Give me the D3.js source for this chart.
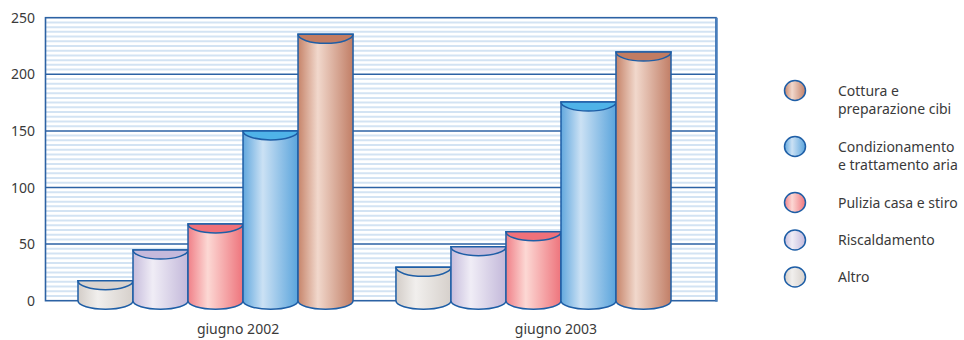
<!DOCTYPE html>
<html>
<head>
<style>
body { margin: 0; background: #fff; }
text { font-family: "Noto Sans", sans-serif; fill: #3a3a3a; }
</style>
</head>
<body>
<svg id="chart" width="964" height="340"></svg>
<script src="https://cdn.jsdelivr.net/npm/d3@7"></script>
<script>
    // data
    const groups = ["giugno 2002", "giugno 2003"];
    const series = ["Altro", "Riscaldamento", "Pulizia casa e stiro", "Condizionamento e trattamento aria", "Cottura e preparazione cibi"];
    const values2002 = [17.7, 44.8, 67.8, 150, 235.3];
    const values2003 = [29.5, 47.7, 61, 175.5, 219.7];
    const yTicks = [0, 50, 100, 150, 200, 250];
    const legendLines = [["Altro"], ["Riscaldamento"], ["Pulizia casa e stiro"], ["Condizionamento", "e trattamento aria"], ["Cottura e", "preparazione cibi"]];

    const palette = [
        {left: "#d3cdc8", mid: "#f1efed", right: "#d6d0cb", cap: "#d9d3ce"},
        {left: "#c6bcdc", mid: "#f0edf6", right: "#c3b8da", cap: "#c4b9db"},
        {left: "#f08088", mid: "#fcd8d4", right: "#ee747c", cap: "#f0717a"},
        {left: "#62a8de", mid: "#cbe1f4", right: "#5aa4dc", cap: "#4fb3e8"},
        {left: "#c6846a", mid: "#f1d8cc", right: "#c17e66", cap: "#c27c62"}
    ];
    const lineBlue = "#1e5ea6";

    const svg = d3.select("#chart");
    const plot = {left: 45.5, right: 716, top: 17.7, bottom: 300.7};
    const ry = 8.5;

    const y = d3.scaleLinear().domain([0, 250]).range([plot.bottom, plot.top]);
    const x0 = d3.scaleBand().domain(groups).range([78, 671]).paddingInner(0.135).paddingOuter(0);
    const x1 = d3.scaleBand().domain(series).range([0, x0.bandwidth()]);

    // gradients
    const defs = svg.append("defs");
    palette.forEach((c, i) => {
        const g = defs.append("linearGradient").attr("id", "grad" + i)
            .attr("x1", 0).attr("x2", 1).attr("y1", 0).attr("y2", 0);
        g.append("stop").attr("offset", 0).attr("stop-color", c.left);
        g.append("stop").attr("offset", 0.36).attr("stop-color", c.mid);
        g.append("stop").attr("offset", 1).attr("stop-color", c.right);
    });

    // minor stripes
    const minor = d3.range(0, 250, 50 / 12).filter((v, i) => i % 12 !== 0);
    svg.append("g").selectAll("line").data(minor).enter().append("line")
        .attr("x1", plot.left).attr("x2", plot.right)
        .attr("y1", d => y(d)).attr("y2", d => y(d))
        .style("stroke", "#d3e3f3").style("stroke-width", 2);

    // major grid lines
    svg.append("g").selectAll("line").data(yTicks.slice(1, -1)).enter().append("line")
        .attr("x1", plot.left).attr("x2", plot.right)
        .attr("y1", d => y(d)).attr("y2", d => y(d))
        .style("stroke", "#2c62a4").style("stroke-width", 1.5);

    // frame
    svg.append("rect")
        .attr("x", plot.left).attr("y", plot.top)
        .attr("width", plot.right - plot.left).attr("height", plot.bottom - plot.top)
        .style("fill", "none").style("stroke", "#2c62a4").style("stroke-width", 1.6);
    svg.append("line")
        .attr("x1", plot.right + 0.5).attr("x2", plot.right + 0.5)
        .attr("y1", plot.top).attr("y2", plot.bottom + 1)
        .style("stroke", "#4a7fbd").style("stroke-width", 2.5);

    // y labels
    svg.append("g").selectAll("text").data(yTicks).enter().append("text")
        .attr("x", 35).attr("y", d => y(d) + 5)
        .attr("text-anchor", "end")
        .attr("font-size", "14px")
        .text(d => d);

    // cylinders
    const bars = [];
    groups.forEach((g, gi) => {
        const vals = gi === 0 ? values2002 : values2003;
        series.forEach((s, si) => bars.push({group: g, series: s, i: si, value: vals[si]}));
    });

    function bodyPath(d) {
        const x = x0(d.group) + x1(d.series), w = x1.bandwidth();
        const top = y(d.value), base = y(0);
        return "M" + x + "," + top + " L" + x + "," + base +
            " A" + (w / 2) + "," + ry + " 0 0 0 " + (x + w) + "," + base +
            " L" + (x + w) + "," + top + " Z";
    }
    function capPath(d) {
        const x = x0(d.group) + x1(d.series), w = x1.bandwidth();
        const top = y(d.value);
        return "M" + x + "," + top + " L" + (x + w) + "," + top +
            " A" + (w / 2) + "," + (ry + 0.5) + " 0 0 1 " + x + "," + top + " Z";
    }

    const cyl = svg.append("g").selectAll("g").data(bars).enter().append("g");
    cyl.append("path")
        .attr("d", bodyPath)
        .style("fill", d => "url(#grad" + d.i + ")")
        .style("stroke", lineBlue).style("stroke-width", 1.5);
    cyl.append("path")
        .attr("d", capPath)
        .style("fill", d => palette[d.i].cap)
        .style("stroke", lineBlue).style("stroke-width", 1.5);

    // x labels
    svg.append("g").selectAll("text").data(groups).enter().append("text")
        .attr("x", d => x0(d) + x0.bandwidth() / 2 + 22.5)
        .attr("y", 334)
        .attr("text-anchor", "middle")
        .attr("font-size", "14px")
        .text(d => d);

    // legend
    const legendY = [277, 240, 202.5, 146.5, 90.5];
    const legend = svg.append("g").selectAll("g").data(series).enter().append("g")
        .attr("transform", (d, i) => "translate(0," + legendY[i] + ")");
    legend.append("ellipse")
        .attr("cx", 795).attr("cy", 0).attr("rx", 10.5).attr("ry", 10)
        .style("fill", (d, i) => "url(#grad" + i + ")")
        .style("stroke", lineBlue).style("stroke-width", 1.5);
    legend.append("text")
        .attr("x", 838).attr("y", 5)
        .attr("font-size", "14px")
        .selectAll("tspan").data((d, i) => legendLines[i]).enter().append("tspan")
        .attr("x", 838).attr("dy", (d, j) => j === 0 ? 0 : 18)
        .text(d => d);
</script>
</body>
</html>
